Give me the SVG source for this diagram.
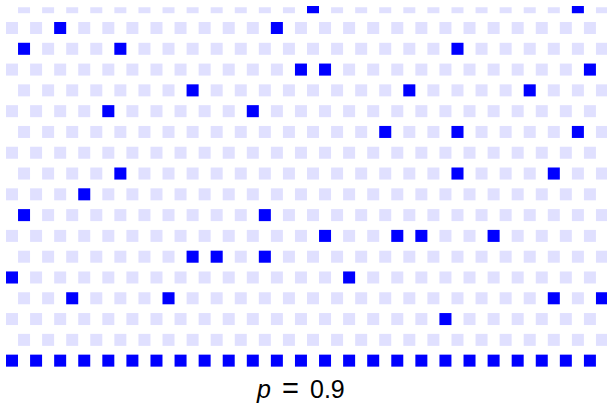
<svg xmlns="http://www.w3.org/2000/svg" width="607" height="411" viewBox="0 0 607 411">
<style>
.lt{fill:#e0e0ff}
.dk{fill:#0000ff}
.lbl{font-family:"Liberation Sans",Arial,sans-serif;font-size:25px;fill:#000}
</style>
<defs>
<g id="rowOdd">
<rect x="6" y="0" width="12" height="12"/><rect x="30.08" y="0" width="12" height="12"/><rect x="54.16" y="0" width="12" height="12"/><rect x="78.24" y="0" width="12" height="12"/><rect x="102.32" y="0" width="12" height="12"/><rect x="126.4" y="0" width="12" height="12"/><rect x="150.48" y="0" width="12" height="12"/><rect x="174.56" y="0" width="12" height="12"/><rect x="198.64" y="0" width="12" height="12"/><rect x="222.72" y="0" width="12" height="12"/><rect x="246.8" y="0" width="12" height="12"/><rect x="270.88" y="0" width="12" height="12"/><rect x="294.96" y="0" width="12" height="12"/><rect x="319.04" y="0" width="12" height="12"/><rect x="343.12" y="0" width="12" height="12"/><rect x="367.2" y="0" width="12" height="12"/><rect x="391.28" y="0" width="12" height="12"/><rect x="415.36" y="0" width="12" height="12"/><rect x="439.44" y="0" width="12" height="12"/><rect x="463.52" y="0" width="12" height="12"/><rect x="487.6" y="0" width="12" height="12"/><rect x="511.68" y="0" width="12" height="12"/><rect x="535.76" y="0" width="12" height="12"/><rect x="559.84" y="0" width="12" height="12"/><rect x="583.92" y="0" width="12" height="12"/>
</g>
<g id="rowEven">
<rect x="18.04" y="0" width="12" height="12"/><rect x="42.12" y="0" width="12" height="12"/><rect x="66.2" y="0" width="12" height="12"/><rect x="90.28" y="0" width="12" height="12"/><rect x="114.36" y="0" width="12" height="12"/><rect x="138.44" y="0" width="12" height="12"/><rect x="162.52" y="0" width="12" height="12"/><rect x="186.6" y="0" width="12" height="12"/><rect x="210.68" y="0" width="12" height="12"/><rect x="234.76" y="0" width="12" height="12"/><rect x="258.84" y="0" width="12" height="12"/><rect x="282.92" y="0" width="12" height="12"/><rect x="307" y="0" width="12" height="12"/><rect x="331.08" y="0" width="12" height="12"/><rect x="355.16" y="0" width="12" height="12"/><rect x="379.24" y="0" width="12" height="12"/><rect x="403.32" y="0" width="12" height="12"/><rect x="427.4" y="0" width="12" height="12"/><rect x="451.48" y="0" width="12" height="12"/><rect x="475.56" y="0" width="12" height="12"/><rect x="499.64" y="0" width="12" height="12"/><rect x="523.72" y="0" width="12" height="12"/><rect x="547.8" y="0" width="12" height="12"/><rect x="571.88" y="0" width="12" height="12"/><rect x="595.96" y="0" width="12" height="12"/>
</g>
<clipPath id="topClip"><rect x="0" y="6" width="607" height="10"/></clipPath>
</defs>
<g id="empty-sites" class="lt">
<use href="#rowEven" y="1.21" clip-path="url(#topClip)"/>
<use href="#rowOdd" y="22"/>
<use href="#rowEven" y="42.79"/>
<use href="#rowOdd" y="63.58"/>
<use href="#rowEven" y="84.37"/>
<use href="#rowOdd" y="105.16"/>
<use href="#rowEven" y="125.95"/>
<use href="#rowOdd" y="146.74"/>
<use href="#rowEven" y="167.53"/>
<use href="#rowOdd" y="188.32"/>
<use href="#rowEven" y="209.11"/>
<use href="#rowOdd" y="229.9"/>
<use href="#rowEven" y="250.69"/>
<use href="#rowOdd" y="271.48"/>
<use href="#rowEven" y="292.27"/>
<use href="#rowOdd" y="313.06"/>
<use href="#rowEven" y="333.85"/>
</g>
<g id="occupied" class="dk">
<use href="#rowOdd" y="354.64"/>
<rect x="307" y="6" width="12" height="7.21"/>
<rect x="571.88" y="6" width="12" height="7.21"/>
<rect x="54.16" y="22" width="12" height="12"/>
<rect x="270.88" y="22" width="12" height="12"/>
<rect x="18.04" y="42.79" width="12" height="12"/>
<rect x="114.36" y="42.79" width="12" height="12"/>
<rect x="451.48" y="42.79" width="12" height="12"/>
<rect x="294.96" y="63.58" width="12" height="12"/>
<rect x="319.04" y="63.58" width="12" height="12"/>
<rect x="583.92" y="63.58" width="12" height="12"/>
<rect x="186.6" y="84.37" width="12" height="12"/>
<rect x="403.32" y="84.37" width="12" height="12"/>
<rect x="523.72" y="84.37" width="12" height="12"/>
<rect x="102.32" y="105.16" width="12" height="12"/>
<rect x="246.8" y="105.16" width="12" height="12"/>
<rect x="379.24" y="125.95" width="12" height="12"/>
<rect x="451.48" y="125.95" width="12" height="12"/>
<rect x="571.88" y="125.95" width="12" height="12"/>
<rect x="114.36" y="167.53" width="12" height="12"/>
<rect x="451.48" y="167.53" width="12" height="12"/>
<rect x="547.8" y="167.53" width="12" height="12"/>
<rect x="78.24" y="188.32" width="12" height="12"/>
<rect x="18.04" y="209.11" width="12" height="12"/>
<rect x="258.84" y="209.11" width="12" height="12"/>
<rect x="319.04" y="229.9" width="12" height="12"/>
<rect x="391.28" y="229.9" width="12" height="12"/>
<rect x="415.36" y="229.9" width="12" height="12"/>
<rect x="487.6" y="229.9" width="12" height="12"/>
<rect x="186.6" y="250.69" width="12" height="12"/>
<rect x="210.68" y="250.69" width="12" height="12"/>
<rect x="258.84" y="250.69" width="12" height="12"/>
<rect x="6" y="271.48" width="12" height="12"/>
<rect x="343.12" y="271.48" width="12" height="12"/>
<rect x="66.2" y="292.27" width="12" height="12"/>
<rect x="162.52" y="292.27" width="12" height="12"/>
<rect x="547.8" y="292.27" width="12" height="12"/>
<rect x="595.96" y="292.27" width="12" height="12"/>
<rect x="439.44" y="313.06" width="12" height="12"/>
</g>
<text class="lbl" y="398"><tspan x="257" font-style="italic">p</tspan><tspan x="282" font-size="29">=</tspan><tspan x="310">0.9</tspan></text>
</svg>
